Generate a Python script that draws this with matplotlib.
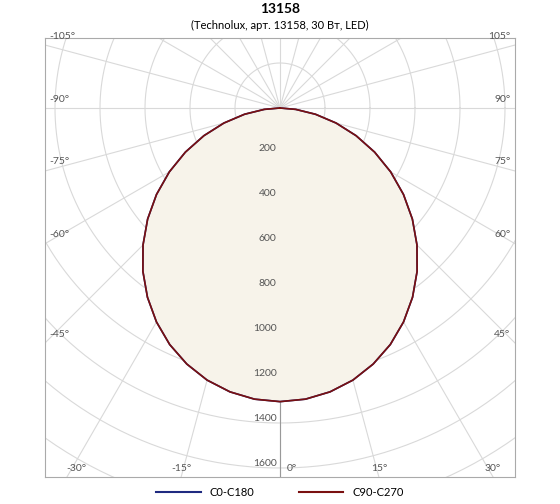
import numpy as np
import matplotlib
matplotlib.use("Agg")
import matplotlib.pyplot as plt
from matplotlib.lines import Line2D

plt.rcParams["font.family"] = ["Lato", "DejaVu Sans"]

# polar intensity data (cd/klm), angles in degrees
angles = [0, 5, 10, 15, 20, 25, 30, 35, 40, 45, 50, 55, 60, 65, 70, 75, 80, 85, 90]
c0_c180 = [1305, 1299, 1281, 1252, 1211, 1160, 1098, 1027, 948, 861, 768, 670, 568, 464, 360, 258, 160, 70, 0]
c90_c270 = [1305, 1299, 1281, 1252, 1211, 1160, 1098, 1027, 948, 861, 768, 670, 568, 464, 360, 258, 160, 70, 0]
ring_values = [200, 400, 600, 800, 1000, 1200, 1400, 1600]
left_labels = [-105, -90, -75, -60, -45, -30, -15]
right_labels = [105, 90, 75, 60, 45, 30, 15]

SCALE = 0.225  # px per unit
W, H = 560, 504
cx, cy = 280, 108
bl, br, bt, bb = 45, 515, 38, 477

fig = plt.figure(figsize=(W / 100, H / 100), dpi=100)
ax = fig.add_axes([bl / W, 1 - bb / H, (br - bl) / W, (bb - bt) / H])
ax.set_xlim((bl - cx) / SCALE, (br - cx) / SCALE)
ax.set_ylim(-(bb - cy) / SCALE, (cy - bt) / SCALE)
ax.set_xticks([]); ax.set_yticks([])
for s in ax.spines.values():
    s.set_color("#aaaaaa"); s.set_linewidth(0.8)

grid = "#d9d9d9"
t = np.linspace(0, 2 * np.pi, 400)
for r in ring_values + [1800, 2000, 2200, 2400]:
    ax.plot(r * np.cos(t), r * np.sin(t), color=grid, lw=0.8, zorder=1)
for a in range(0, 360, 15):
    ar = np.radians(a)
    ax.plot([0, 5000 * np.sin(ar)], [0, -5000 * np.cos(ar)], color=grid, lw=0.8, zorder=1)
ax.plot([0, 0], [0, -5000], color="#999999", lw=0.8, zorder=1)


def curve(vals):
    th = np.radians(np.array(angles))
    v = np.array(vals)
    th = np.concatenate([-th[::-1], th[1:]])
    v = np.concatenate([v[::-1], v[1:]])
    return v * np.sin(th), -v * np.cos(th)


x0, y0 = curve(c0_c180)
x1, y1 = curve(c90_c270)
ax.fill(x1, y1, color="#f7f3ea", zorder=2)
ax.plot(x0, y0, color="#1f2a80", lw=1.2, zorder=3)
ax.plot(x1, y1, color="#7a1010", lw=1.2, zorder=4)

for r in ring_values:
    ax.text(-15, -r + 20, str(r), ha="right", va="center", fontsize=7.5, color="#555555", zorder=5)

xl, xr = ax.get_xlim(); yb, yt = ax.get_ylim()
for a in left_labels:
    if abs(a) >= 45:
        y = -abs(xl) * np.cos(np.radians(a)) / np.sin(np.radians(abs(a)))
        ax.text(xl + 20, y + 20, f"{a}°", ha="left", va="bottom", fontsize=7.5, color="#555555")
    else:
        x = yb * np.tan(np.radians(abs(a)))
        ax.text(max(x, xl + 140), yb + 20, f"{a}°", ha="center", va="bottom", fontsize=7.5, color="#555555")
for a in right_labels:
    if a >= 45:
        y = -abs(xr) * np.cos(np.radians(a)) / np.sin(np.radians(a))
        ax.text(xr - 20, y + 20, f"{a}°", ha="right", va="bottom", fontsize=7.5, color="#555555")
    else:
        x = -yb * np.tan(np.radians(a))
        ax.text(x, yb + 20, f"{a}°", ha="center", va="bottom", fontsize=7.5, color="#555555")
ax.text(30, yb + 20, "0°", ha="left", va="bottom", fontsize=7.5, color="#555555")

fig.text(0.5, 1 - 9 / H, "13158", ha="center", va="center", fontsize=10, fontweight="bold")
fig.text(0.5, 1 - 25 / H, "(Technolux, арт. 13158, 30 Вт, LED)", ha="center", va="center", fontsize=8)

handles = [Line2D([], [], color="#1f2a80", lw=1.5), Line2D([], [], color="#7a1010", lw=1.5)]
fig.legend(handles, ["C0-C180", "C90-C270"], loc="center", bbox_to_anchor=(0.5, 1 - 492 / H),
           ncol=2, frameon=False, fontsize=8, handlelength=4, columnspacing=4)

fig.savefig("out.png", dpi=100)
